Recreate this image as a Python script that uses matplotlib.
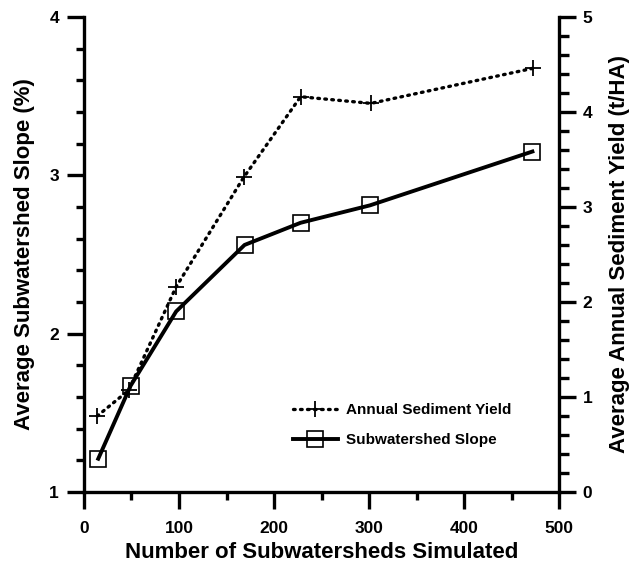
import matplotlib
matplotlib.use("Agg")
import matplotlib.pyplot as plt
from matplotlib.ticker import MultipleLocator

# values
n_subwatersheds = [15, 49, 97, 169, 228, 301, 472]
slope_pct = [1.21, 1.67, 2.14, 2.56, 2.70, 2.81, 3.15]
sediment_n = [14, 47, 97, 168, 228, 302, 473]
sediment_yield = [0.80, 1.07, 2.16, 3.31, 4.16, 4.09, 4.46]

plt.rcParams["font.family"] = ["Liberation Sans", "DejaVu Sans"]
plt.rcParams["font.weight"] = "bold"

fig = plt.figure(figsize=(6.33, 5.64), dpi=100)
ax = fig.add_axes([0.1327, 0.1277, 0.7504, 0.8423])
ax2 = ax.twinx()

l_slope, = ax.plot(n_subwatersheds, slope_pct, color="black", linewidth=2.8,
                   marker="s", markersize=11, fillstyle="none",
                   markeredgewidth=1.2, label="Subwatershed Slope")
l_sed, = ax2.plot(sediment_n, sediment_yield, color="black", linewidth=2.4,
                  linestyle=(0, (0.5, 1.6)), dash_capstyle="round",
                  marker="+", markersize=12, markeredgewidth=1.3,
                  label="Annual Sediment Yield")

ax.set_xlim(0, 500)
ax.set_ylim(1, 4)
ax2.set_ylim(0, 5)

ax.xaxis.set_major_locator(MultipleLocator(100))
ax.xaxis.set_minor_locator(MultipleLocator(50))
ax.yaxis.set_major_locator(MultipleLocator(1))
ax.yaxis.set_minor_locator(MultipleLocator(0.2))
ax2.yaxis.set_major_locator(MultipleLocator(1))
ax2.yaxis.set_minor_locator(MultipleLocator(0.2))

for a in (ax, ax2):
    a.spines["top"].set_visible(False)
    for s in a.spines.values():
        s.set_linewidth(2.4)
ax.spines["right"].set_visible(False)
ax2.spines["left"].set_visible(False)
ax2.spines["bottom"].set_visible(False)

ax.tick_params(axis="x", which="major", direction="out", length=12, width=2.4,
               labelsize=12.5, pad=9)
ax.tick_params(axis="x", which="minor", direction="out", length=6, width=2.4)
ax.tick_params(axis="y", which="major", direction="out", length=12, width=2.4,
               labelsize=12.5, pad=6)
ax.tick_params(axis="y", which="minor", direction="out", length=6, width=2.4)
ax2.tick_params(axis="y", which="major", direction="out", length=12, width=2.4,
                labelsize=12.5, pad=5)
ax2.tick_params(axis="y", which="minor", direction="out", length=7, width=2.4)

ax.set_xlabel("Number of Subwatersheds Simulated", fontsize=16,
              fontweight="bold", labelpad=4)
ax.set_ylabel("Average Subwatershed Slope (%)", fontsize=16,
              fontweight="bold", labelpad=10)
ax2.set_ylabel("Average Annual Sediment Yield (t/HA)", fontsize=16,
               fontweight="bold", labelpad=12)

ax2.legend(handles=[l_sed, l_slope], loc="center left",
           bbox_to_anchor=(0.41, 0.141), frameon=False, fontsize=11,
           handlelength=3.0, labelspacing=1.05, handletextpad=0.5)

fig.savefig("out.png", dpi=100)
